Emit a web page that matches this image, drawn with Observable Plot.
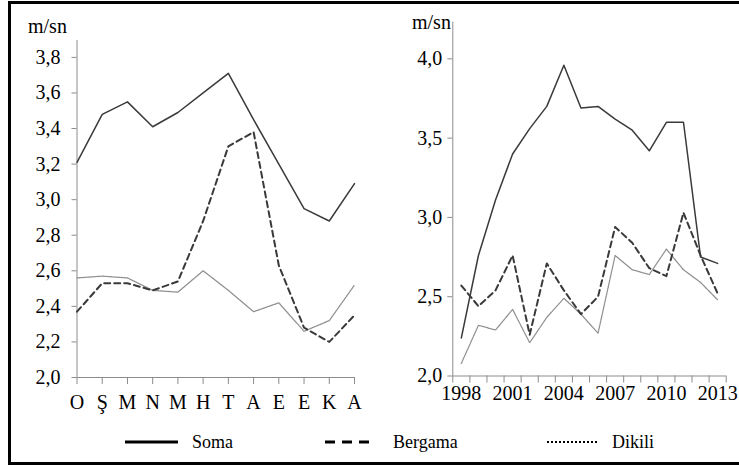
<!DOCTYPE html>
<html>
<head>
<meta charset="utf-8">
<script src="https://cdn.jsdelivr.net/npm/d3@7"></script>
<script src="https://cdn.jsdelivr.net/npm/@observablehq/plot@0.6"></script>
<style>
  html, body { margin: 0; padding: 0; background: #fff; width: 739px; height: 466px; overflow: hidden; }
  body { position: relative; font-family: "Liberation Serif", "Times New Roman", serif; }
  #frame { position: absolute; left: 8px; top: 1px; width: 780px; height: 464px; border: 3px solid #000; box-sizing: border-box; }
  .panel { position: absolute; top: 0; }
  .unit { position: absolute; font-family: "Liberation Serif", "Times New Roman", serif; font-size: 20px; line-height: 20px; color: #000; white-space: nowrap; }
  #legend { position: absolute; left: 0; top: 0; }
</style>
</head>
<body>
<div id="frame"></div>
<div id="left" class="panel" style="left:0px"></div>
<div id="right" class="panel" style="left:370px"></div>
<span class="unit" style="left:28px; top:16px">m/sn</span>
<span class="unit" style="left:412px; top:12px">m/sn</span>
<svg id="legend" width="739" height="466"></svg>
<script>
// ---- Data: monthly (left panel) ----
const months = ["O", "Ş", "M", "N", "M", "H", "T", "A", "E", "E", "K", "A"];
const somaMonthly    = [3.21, 3.48, 3.55, 3.41, 3.49, 3.60, 3.71, 3.45, 3.20, 2.95, 2.88, 3.09];
const bergamaMonthly = [2.37, 2.53, 2.53, 2.49, 2.54, 2.88, 3.30, 3.38, 2.63, 2.28, 2.20, 2.35];
const dikiliMonthly  = [2.56, 2.57, 2.56, 2.49, 2.48, 2.60, 2.49, 2.37, 2.42, 2.26, 2.32, 2.52];
const leftYTicks = [2.0, 2.2, 2.4, 2.6, 2.8, 3.0, 3.2, 3.4, 3.6, 3.8];

// ---- Data: yearly (right panel) ----
const years = [1998, 1999, 2000, 2001, 2002, 2003, 2004, 2005, 2006, 2007, 2008, 2009, 2010, 2011, 2012, 2013];
const somaYearly    = [2.24, 2.76, 3.11, 3.40, 3.56, 3.70, 3.96, 3.69, 3.70, 3.62, 3.55, 3.42, 3.60, 3.60, 2.75, 2.71];
const bergamaYearly = [2.57, 2.44, 2.54, 2.76, 2.26, 2.71, 2.54, 2.39, 2.50, 2.94, 2.84, 2.68, 2.63, 3.03, 2.76, 2.52];
const dikiliYearly  = [2.08, 2.32, 2.29, 2.42, 2.21, 2.37, 2.49, 2.39, 2.27, 2.76, 2.67, 2.64, 2.80, 2.67, 2.59, 2.48];
const yearLabels = [1998, 2001, 2004, 2007, 2010, 2013];
const rightYTicks = [2.0, 2.5, 3.0, 3.5, 4.0];

const seriesNames = ["Soma", "Bergama", "Dikili"];

const fmt = d => d.toFixed(1).replace(".", ",");
const axisGray = "#8c8c8c";
const fontFamily = "'Liberation Serif', 'Times New Roman', serif";
const styles = {
  Soma:    {stroke: "#3a3a3a", strokeWidth: 1.5},
  Bergama: {stroke: "#3a3a3a", strokeWidth: 2, strokeDasharray: "6,4"},
  Dikili:  {stroke: "#8f8f8f", strokeWidth: 1.3, strokeDasharray: "1,1"}
};

// ---- Left panel ----
const idx = months.map((m, i) => i);
const leftData = idx.map(i => ({i, Soma: somaMonthly[i], Bergama: bergamaMonthly[i], Dikili: dikiliMonthly[i]}));
const leftTop = 3.895;

const left = Plot.plot({
  width: 370, height: 420,
  marginLeft: 76.5, marginRight: 16, marginTop: 40, marginBottom: 43,
  style: {fontFamily, fontSize: "20px", background: "transparent", overflow: "visible", color: "#000"},
  x: {type: "linear", domain: [0, 11], axis: null},
  y: {type: "linear", domain: [2.0, leftTop], axis: null},
  marks: [
    Plot.ruleY([2.0], {stroke: axisGray, strokeWidth: 1}),
    Plot.ruleX([0], {y1: 2.0, y2: leftTop, stroke: axisGray, strokeWidth: 1}),
    Plot.axisX({ticks: idx, tickSize: 7, tickFormat: () => "", stroke: axisGray, label: null}),
    Plot.axisY({ticks: leftYTicks, tickSize: 5, tickFormat: () => "", stroke: axisGray, label: null}),
    Plot.text(idx, {x: d => d, y: d => 2.0, text: i => months[i], dy: 24.7, lineAnchor: "middle", fill: "#000", fontSize: 20}),
    Plot.text(leftYTicks, {x: d => 0, y: d => d, text: fmt, textAnchor: "end", dx: -16.5, lineAnchor: "middle", fill: "#000", fontSize: 20}),
    ...["Dikili", "Bergama", "Soma"].map(s => Plot.line(leftData, {x: "i", y: s, ...styles[s]}))
  ]
});
document.getElementById("left").appendChild(left);

// ---- Right panel ----
const rightData = years.map((y, k) => ({year: y, Soma: somaYearly[k], Bergama: bergamaYearly[k], Dikili: dikiliYearly[k]}));
const bounds = years.map(y => y - 0.5).concat([years[years.length - 1] + 0.5]);
const rightTop = 4.231;

const right = Plot.plot({
  width: 369, height: 420,
  marginLeft: 82.3, marginRight: 13.3, marginTop: 21.7, marginBottom: 44.5,
  style: {fontFamily, fontSize: "20px", background: "transparent", overflow: "visible", color: "#000"},
  x: {type: "linear", domain: [bounds[0], bounds[bounds.length - 1]], axis: null},
  y: {type: "linear", domain: [2.0, rightTop], axis: null},
  marks: [
    Plot.ruleY([2.0], {stroke: axisGray, strokeWidth: 1}),
    Plot.ruleX([bounds[0]], {y1: 2.0, y2: rightTop, stroke: axisGray, strokeWidth: 1}),
    Plot.axisX({ticks: bounds, tickSize: 7, tickFormat: () => "", stroke: axisGray, label: null}),
    Plot.axisY({ticks: rightYTicks, tickSize: 5, tickFormat: () => "", stroke: axisGray, label: null}),
    Plot.text(yearLabels, {x: d => d, y: d => 2.0, text: d => String(d), dy: 17.8, lineAnchor: "middle", fill: "#000", fontSize: 20}),
    Plot.text(rightYTicks, {x: d => bounds[0], y: d => d, text: fmt, textAnchor: "end", dx: -10.6, lineAnchor: "middle", fill: "#000", fontSize: 20}),
    ...["Dikili", "Bergama", "Soma"].map(s => Plot.line(rightData, {x: "year", y: s, ...styles[s]}))
  ]
});
document.getElementById("right").appendChild(right);

// ---- Legend ----
const legendItems = [
  {name: seriesNames[0], x1: 125, x2: 178, tx: 192, dash: null, w: 3},
  {name: seriesNames[1], x1: 325, x2: 374, tx: 393, dash: "10,7", w: 3},
  {name: seriesNames[2], x1: 547, x2: 599, tx: 612, dash: "2,2", w: 2}
];
const lg = d3.select("#legend");
const ly = 442;
legendItems.forEach(it => {
  const line = lg.append("line").attr("x1", it.x1).attr("x2", it.x2).attr("y1", ly).attr("y2", ly)
    .attr("stroke", "#000").attr("stroke-width", it.w);
  if (it.dash) line.attr("stroke-dasharray", it.dash);
  lg.append("text").attr("x", it.tx).attr("y", ly).attr("dy", "0.32em")
    .attr("font-family", fontFamily).attr("font-size", 18).attr("fill", "#000").text(it.name);
});
</script>
</body>
</html>
